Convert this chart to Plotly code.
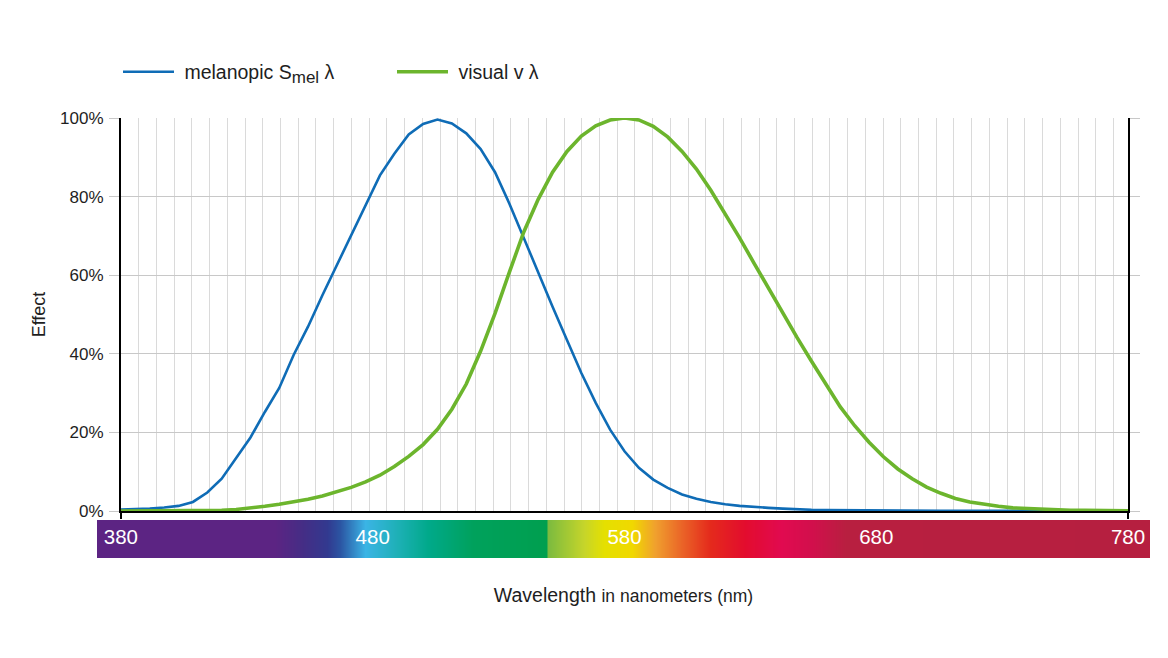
import plotly.graph_objects as go

# curves, sampled every 5 nm (values in %)
wavelength_nm = list(range(380, 731, 5))
melanopic_pct = [0.4, 0.5, 0.6, 0.9, 1.3, 2.3, 4.7, 8.2, 13.5, 18.7,
                 25.2, 31.3, 39.7, 46.9, 54.9, 62.6, 70.2, 77.8, 85.4, 90.9,
                 95.8, 98.5, 99.6, 98.6, 96.1, 92.1, 86.2, 78.2, 69.3, 60.4,
                 52.0, 43.5, 35.1, 27.5, 20.7, 15.2, 11.0, 8.0, 5.9, 4.2,
                 3.1, 2.3, 1.7, 1.3, 1.0, 0.8, 0.6, 0.4, 0.3, 0.25,
                 0.2, 0.15, 0.12, 0.1, 0.08, 0.07, 0.06, 0.05, 0.05, 0.04,
                 0.04, 0.03, 0.03, 0.02, 0.02, 0.02, 0.01, 0.01, 0.0, 0.0, 0.0]
visual_pct = [0.0, 0.0, 0.0, 0.0, 0.0, 0.1, 0.1, 0.2, 0.4, 0.7,
              1.2, 1.7, 2.3, 3.0, 3.8, 4.8, 6.0, 7.4, 9.1, 11.3,
              13.9, 16.9, 20.8, 25.9, 32.3, 40.7, 50.3, 60.8, 71.0, 79.3,
              86.2, 91.5, 95.4, 98.0, 99.5, 100.0, 99.5, 97.9, 95.2, 91.5,
              87.0, 81.6, 75.7, 69.5, 63.1, 56.7, 50.3, 44.1, 38.1, 32.1,
              26.5, 21.7, 17.5, 13.8, 10.7, 8.2, 6.1, 4.5, 3.2, 2.3,
              1.7, 1.2, 0.8, 0.6, 0.4, 0.3, 0.2, 0.15, 0.1, 0.07, 0.05]

y_ticks = [0, 20, 40, 60, 80, 100]
y_ticktext = [f"{v}%" for v in y_ticks]

# colour band under the chart
band_labels = [380, 480, 580, 680, 780]
band_nm = [370.5, 441, 452, 462, 467, 477, 490, 502, 520, 549, 549.5, 564,
           572, 583, 592, 603, 614, 628, 642, 654, 668, 788.7]
band_colors = ["#5c2483", "#5c2483", "#452d85", "#32398f", "#2b55a3", "#3bb4e5",
               "#1db0b5", "#00a98a", "#00a15c", "#009f4f", "#7cbb3f", "#c6d52a",
               "#e5e000", "#f0d800", "#f0a02e", "#ea6327", "#e42a1c", "#e30c2e",
               "#e10a50", "#d20f4c", "#b81f40", "#b61f40"]

FONT = "Liberation Sans, Arial, sans-serif"
BLUE = "#0f6cb6"
GREEN = "#6cb52d"

lo, hi = band_nm[0], band_nm[-1]
colorscale = [[(v - lo) / (hi - lo), c] for v, c in zip(band_nm, band_colors)]

fig = go.Figure()

fig.add_trace(go.Scatter(x=wavelength_nm, y=melanopic_pct, mode="lines",
                         name="&nbsp;melanopic S<sub><span style='font-size:17px'>mel</span></sub> λ",
                         line=dict(color=BLUE, width=2.6)))
fig.add_trace(go.Scatter(x=wavelength_nm, y=visual_pct, mode="lines",
                         name="&nbsp;visual v λ",
                         line=dict(color=GREEN, width=3.6)))

fig.add_trace(go.Heatmap(x=band_nm, y=[0, 1], z=[band_nm, band_nm],
                         colorscale=colorscale, zmin=lo, zmax=hi, zsmooth="best",
                         showscale=False, hoverinfo="skip",
                         xaxis="x2", yaxis="y2"))
fig.add_trace(go.Scatter(x=band_labels, y=[0.5] * len(band_labels), mode="text",
                         text=[str(v) for v in band_labels],
                         textfont=dict(family=FONT, size=20.5, color="white"),
                         showlegend=False, hoverinfo="skip",
                         xaxis="x2", yaxis="y2"))

# page has an 8px body margin, so the figure is 8px smaller than the window
W, H = 1160, 650
ml, mr, mt, mb = 89, 18, 110, 100
pw, ph = W - ml - mr, H - mt - mb

fig.update_layout(
    width=W, height=H,
    margin=dict(l=ml, r=mr, t=mt, b=mb),
    paper_bgcolor="white", plot_bgcolor="white",
    font=dict(family=FONT, size=17, color="#1e1e1e"),
    legend=dict(orientation="h", x=(118 - 97) / pw, xanchor="left",
                y=1 + (118 - 72) / ph, yanchor="middle",
                font=dict(size=19.5), itemwidth=51, entrywidth=208),
    xaxis=dict(domain=[24 / pw, 1031 / pw], range=[380, 730],
               tickmode="array", tickvals=[380, 730], ticks="outside", ticklen=6,
               tickwidth=2, tickcolor="black", showticklabels=False,
               showgrid=False, showline=True, linecolor="black", linewidth=2,
               zeroline=False,
               minor=dict(tickmode="linear", tick0=380, dtick=6.16, showgrid=True,
                          gridcolor="#dadada", gridwidth=1, ticks="")),
    yaxis=dict(domain=[47 / ph, 1], range=[0, 100],
               tickmode="array", tickvals=y_ticks, ticktext=y_ticktext,
               ticks="outside", ticklen=10, tickcolor="#c8c8c8", tickwidth=1,
               ticklabelstandoff=2,
               showgrid=True, gridcolor="#c8c8c8", gridwidth=1,
               showline=True, linecolor="black", linewidth=2, mirror="ticks",
               zeroline=False, tickfont=dict(size=17),
               title=dict(text="Effect", standoff=10, font=dict(size=18))),
    xaxis2=dict(domain=[0, 1], range=[lo, hi], anchor="y2", showticklabels=False,
                showgrid=False, zeroline=False, ticks="",
                title=dict(text="Wavelength <span style='font-size:17.5px'>in nanometers (nm)</span>",
                           standoff=30, font=dict(size=19.5))),
    yaxis2=dict(domain=[0, 38 / ph], range=[0, 1], anchor="x2",
                showticklabels=False, showgrid=False, zeroline=False, ticks=""),
)

fig.write_html("out.html")
